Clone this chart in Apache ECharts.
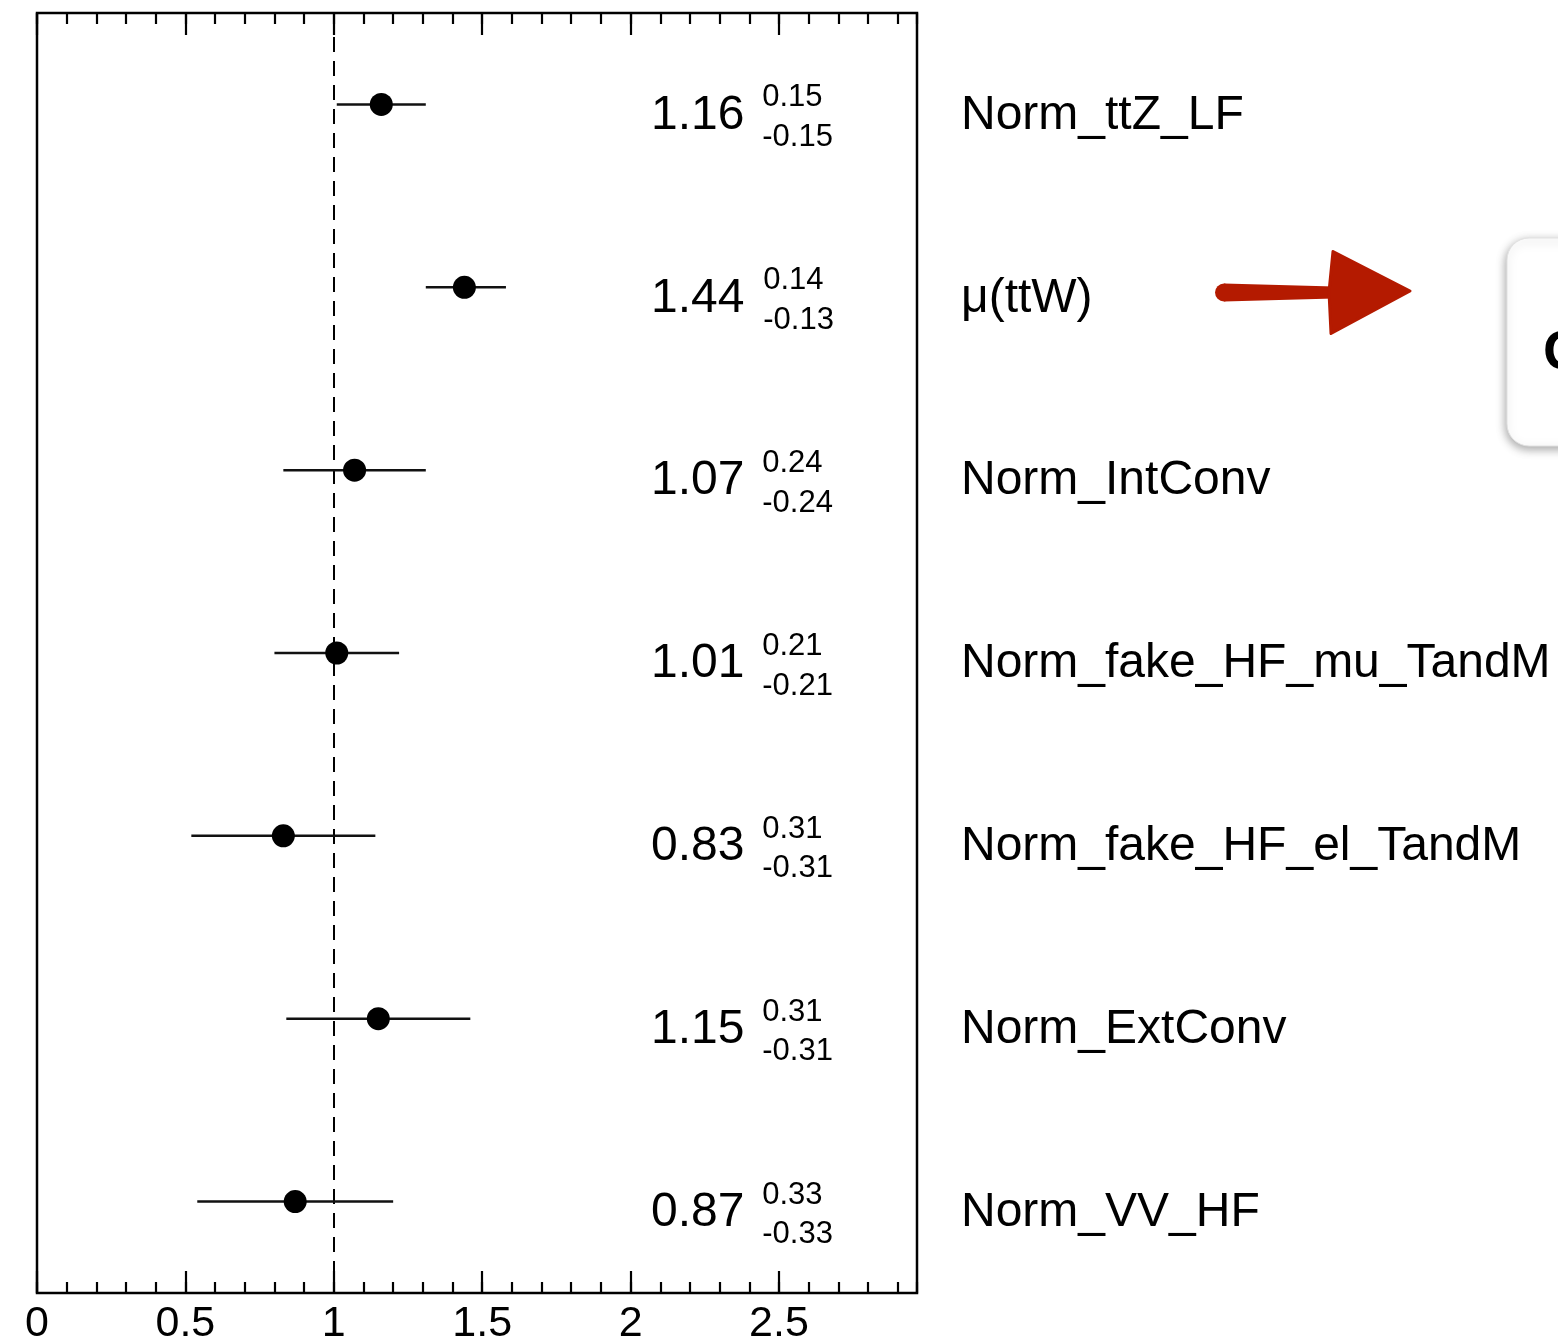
<!DOCTYPE html>
<html>
<head>
<meta charset="utf-8">
<script src="https://cdn.jsdelivr.net/npm/echarts@6/dist/echarts.min.js"></script>
<style>
  html, body { margin: 0; padding: 0; background: #ffffff; }
  #chart { width: 1558px; height: 1339px; }
</style>
</head>
<body>
<div id="chart"></div>
<script>
// Fitted normalisation parameters with asymmetric uncertainties
const parameters = ['Norm_ttZ_LF', 'μ(ttW)', 'Norm_IntConv', 'Norm_fake_HF_mu_TandM',
                    'Norm_fake_HF_el_TandM', 'Norm_ExtConv', 'Norm_VV_HF'];
const fitValues = [1.16, 1.44, 1.07, 1.01, 0.83, 1.15, 0.87];
const errUp     = [0.15, 0.14, 0.24, 0.21, 0.31, 0.31, 0.33];
const errDown   = [0.15, 0.13, 0.24, 0.21, 0.31, 0.31, 0.33];

// Axis ticks
const majorTicks = [0, 0.5, 1, 1.5, 2, 2.5];
const tickLabels = ['0', '0.5', '1', '1.5', '2', '2.5'];
const AXIS_MIN = 0;
const AXIS_MAX = 2.965;
const MINOR_STEP = 0.1;
const NOMINAL = 1;

const FONT = '"Liberation Sans", Arial, Helvetica, sans-serif';
const VALUE_SIZE = 48;
const ERR_SIZE = 31;

const points = parameters.map((name, i) => [fitValues[i], i, errUp[i], errDown[i]]);

// ink extent of a string, so the up/down errors sit right after the printed value
const measureCtx = document.createElement('canvas').getContext('2d');
function inkRight(text, size) {
  measureCtx.font = size + 'px ' + FONT;
  const m = measureCtx.measureText(text);
  return (m.actualBoundingBoxRight !== undefined) ? m.actualBoundingBoxRight : m.width;
}

// point + horizontal error bar, with the value and its up/down errors printed in a column
function renderFitPoint(params, api) {
  const v = api.value(0), row = api.value(1), up = api.value(2), dn = api.value(3);
  const c = api.coord([v, row]);
  const lo = api.coord([v - dn, row]);
  const hi = api.coord([v + up, row]);
  const cy = c[1];
  const valueText = v.toFixed(2);
  const tx = params.coordSys.x + 614;
  const sx = tx + inkRight(valueText, VALUE_SIZE) + 19.5;
  const txt = (text, x, y, size) => ({
    type: 'text', x: x, y: y,
    style: { text: text, fontSize: size, fontFamily: FONT, fill: '#000',
             align: 'left', verticalAlign: 'middle' }
  });
  return {
    type: 'group',
    children: [
      { type: 'line', shape: { x1: lo[0], y1: cy, x2: hi[0], y2: cy },
        style: { stroke: '#111', lineWidth: 2.5 } },
      { type: 'circle', shape: { cx: c[0], cy: cy, r: 11.5 }, style: { fill: '#000' } },
      txt(valueText, tx, cy + 11, VALUE_SIZE),
      txt(up.toFixed(2), sx, cy - 6.5, ERR_SIZE),
      txt('-' + dn.toFixed(2), sx, cy + 33, ERR_SIZE)
    ]
  };
}

function xAxisBase(position, major) {
  return {
    type: 'value', position: position, min: AXIS_MIN, max: AXIS_MAX,
    interval: major ? 0.5 : MINOR_STEP,
    axisLine: { show: false },
    splitLine: { show: false },
    axisTick: major
      ? { show: true, inside: true, length: 22, customValues: majorTicks,
          lineStyle: { color: '#000', width: 2.2 } }
      : { show: true, inside: true, length: 11,
          lineStyle: { color: '#000', width: 2.2 } },
    axisLabel: { show: false }
  };
}

const bottomMajor = xAxisBase('bottom', true);
bottomMajor.axisLabel = {
  show: true, customValues: majorTicks, margin: 10,
  fontSize: 43, fontFamily: FONT, color: '#000',
  formatter: (val) => {
    const k = majorTicks.findIndex(t => Math.abs(t - val) < 1e-6);
    return k >= 0 ? tickLabels[k] : '';
  }
};

const chart = echarts.init(document.getElementById('chart'), null, { renderer: 'canvas' });
chart.setOption({
  animation: false,
  backgroundColor: '#ffffff',
  grid: {
    left: 37, right: 641, top: 13, bottom: 46,
    outerBoundsMode: 'none', containLabel: false,
    show: true, borderColor: '#000', borderWidth: 2.5, backgroundColor: 'transparent'
  },
  xAxis: [
    bottomMajor,
    xAxisBase('bottom', false),
    xAxisBase('top', true),
    xAxisBase('top', false)
  ],
  yAxis: {
    type: 'category', data: parameters, inverse: true, position: 'right',
    boundaryGap: true,
    axisLine: { show: false }, axisTick: { show: false }, splitLine: { show: false },
    axisLabel: {
      margin: 44, fontSize: 48, fontFamily: FONT, color: '#000', align: 'left',
      verticalAlign: 'top', lineHeight: 22
    }
  },
  series: [
    {
      type: 'line', xAxisIndex: 0, yAxisIndex: 0, data: [], silent: true,
      markLine: {
        silent: true, symbol: ['none', 'none'], label: { show: false },
        lineStyle: { type: [15, 9], color: '#000', width: 2 },
        data: [{ xAxis: NOMINAL }]
      }
    },
    {
      type: 'custom', xAxisIndex: 0, yAxisIndex: 0,
      data: points, encode: { x: 0, y: 1 },
      renderItem: renderFitPoint, clip: false, z: 5
    }
  ],
  graphic: [
    // red pointer arrow towards the signal strength row
    { type: 'circle', shape: { cx: 1224, cy: 292.5, r: 9 }, style: { fill: '#B41A00' }, z: 10 },
    { type: 'polygon', shape: { points: [[1224, 283.5], [1334, 286.5], [1334, 298.5], [1224, 301.5]] },
      style: { fill: '#B41A00' }, z: 10 },
    { type: 'polygon', shape: { points: [[1333, 251.5], [1410, 291], [1331, 333.5], [1329, 292]] },
      style: { fill: '#B41A00', stroke: '#B41A00', lineWidth: 3, lineJoin: 'round' }, z: 10 },
    // edge of a popup card
    { type: 'rect', shape: { x: 1507, y: 238, width: 120, height: 208, r: 22 },
      style: { fill: '#ffffff', stroke: '#e2e2e2', lineWidth: 1,
               shadowBlur: 10, shadowColor: 'rgba(0,0,0,0.35)', shadowOffsetX: -1, shadowOffsetY: 3 },
      z: 10 },
    { type: 'text', x: 1543, y: 354,
      style: { text: 'G', fontSize: 56, fontWeight: 'bold', fontFamily: FONT, fill: '#000',
               align: 'left', verticalAlign: 'middle' }, z: 11 }
  ]
});
</script>
</body>
</html>
